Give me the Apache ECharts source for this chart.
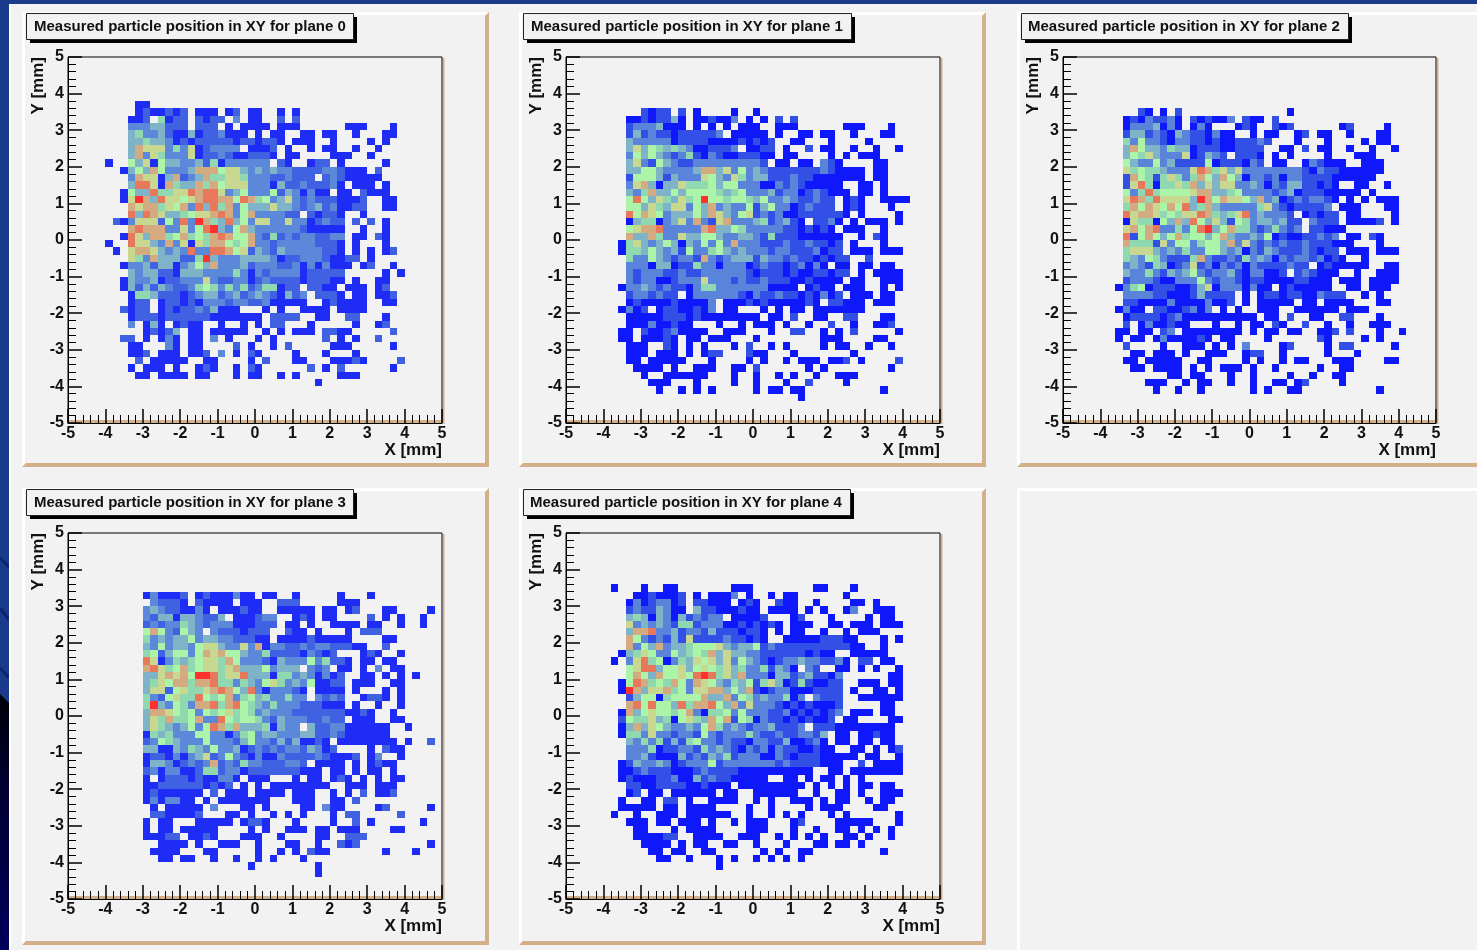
<!DOCTYPE html>
<html><head><meta charset="utf-8">
<style>html,body{margin:0;padding:0;background:#f2f2f2;overflow:hidden}#c{width:1477px;height:950px}#c canvas{filter:blur(.4px)}</style>
<script src="https://cdn.jsdelivr.net/npm/echarts@6/dist/echarts.min.js"></script>
</head><body><div id="c"></div>
<script>
// Each row is one 0.2 mm strip in Y, top to bottom; each character is one 0.2 mm bin in X,
// starting at X = -4.0 mm (blocks of five). "." = empty bin, 1..9,a = colour level.
const binOffset = 5;
const planeTitles = ["Measured particle position in XY for plane 0","Measured particle position in XY for plane 1","Measured particle position in XY for plane 2","Measured particle position in XY for plane 3","Measured particle position in XY for plane 4"];
const firstRows = [6,7,7,8,7];
const plane0 = [
"....1 1....",
"....1 21121 2.111 .12.1 1..1. 1....",
"...11 2.512 2.212 2.3.1 1..2. 2....",
"...33 34422 2.222 .1.11 11.11 1.... ..111 ...1.",
"...45 33421 14122 3111. 1.11. .11.1 1..1. ..11.",
"...44 54431 21222 22122 1221. 111.. 1.... 1.1..",
"...48 77735 37123 333.1 112.1 ..1.1 1..1. .1...",
"...48 37533 37122 32112 221.1 1.... 111.. 1....",
"1..64 71644 33425 13333 33.21 ..122 .1... ..1..",
"..146 48633 34888 67743 43433 22223 32111 .2...",
"...38 77148 23485 57753 33223 222.2 32111 11...",
"...49 97185 44858 67773 33142 23222 31.11 1.1..",
"..164 49557 79899 73463 33624 31311 .11.2 111..",
"..17a 84977 67899 88698 56347 32322 21112 ..11.",
"...87 88576 83949 58364 44744 32342 31122 ..11.",
"...94 98744 56778 98368 33332 2.212 21..1",
".2137 77263 93a85 49463 77337 33123 22.2. 2.1..",
"...89 88833 7369a 43684 33333 32111 11..1 ..1..",
"..197 48856 85658 98668 32523 23322 33.11 .21..",
"1..97 74383 71758 86568 33233 33322 21.1. ..1..",
".1.78 87434 39339 98672 43243 33332 21.1. 1.12.",
"...75 38444 225a4 33344 44312 23332 1122. 1....",
"..133 42441 34648 33342 33322 31313 111.1 2..1.",
"...43 44221 44433 33531 32333 31222 22... ..1.1",
"..143 34122 33373 22331 23222 21222 11.1. .11..",
"..142 42432 23565 35352 35512 2.221 1.111 .12..",
"...15 54222 12344 23423 43214 23.22 21.11 .112.",
"...12 2.122 12133 32332 23111 11..1 21111 ..11.",
"..212 2.121 22324 111.. .1.1. .1111 .1111",
"...12 22122 22221 11111 1.222 2..11 ..22. ..1..",
"...3. 141.1 211.. 1..1. 1.22. ..1.. ...1. .12..",
"..... 12124 .11.1 1111. .1.1. 111.2 211.. ...2.",
"..22. 1.131 .11.3 .1... 1.1.. ....2 .1.1. .2...",
"...11 ...31 .11.. ..2.1 ..1.2 ..... 111.. ...1.",
"...11 2.111 .112. 3.1.2 1.... 1...1 ...1.",
"....2 .1111 1..11 ....1 .2... 11... 11121 ....2",
"...1. 111.1 ..121 ..1.2 1.... ..2.1 .2... ...1.",
"....1 1.111 1.11. ..1.1 1..1. 1.... .111.",
"..... ..... ..... ..... ..... ...1."
];
const plane1 = [
"..... 2122. 2.1.. ..1.. 1....",
"...11 21224 1.112 113.1 .1.2. 2....",
"...23 33411 1.1.1 .1.11 1..11 1.... ..111 ...1.",
"...24 23221 22222 3.111 11.1. .11.1 1..1. ..11.",
"...43 33331 22221 11121 212.. 11... 1.... 1....",
"...47 46545 43112 223.1 122.1 ..2.1 1..1. .1..1",
"...36 46432 35213 21122 211.1 1.... 1.1.1 11...",
"...47 32643 22333 33333 32.11 .11.3 21... .11..",
"...44 66433 33488 47363 43222 22223 21111 .11..",
"...26 66424 33376 43753 44222 32211 11111 .11..",
"...37 84144 75556 46633 31132 32111 11..1 1.1..",
"...43 58446 46666 54563 33423 31232 111.1 1.1..",
"...69 64754 756a6 65665 46334 32232 2.121 ..111 1....",
"...66 47547 73648 34336 24633 12322 2.121 ...1.",
"...96 87634 44648 74367 23231 12222 221.1 ....1",
"...14 55134 73832 78333 45234 21.22 31.1. 111.1",
"...67 88933 33389 44653 33332 21212 1.111 ..1..",
"...84 48533 74466 43344 32522 21111 11..1 .21..",
"..157 43464 14363 63833 32223 22322 12.1. ..1..",
"..155 46434 26335 64343 33233 22231 22.11 1.111",
"...53 36432 33283 23444 24332 32212 122.. 2....",
"...33 31441 22533 13331 23221 23131 .11.1 1.11.",
"...32 33322 32233 33332 12221 21122 122.1 .1111",
"...32 33112 33373 33232 23222 11211 11.11 ..111",
"..133 43232 21355 33333 33111 1.121 1.111 ..1.1",
"...23 32322 .1333 33321 32232 21213 12.11 1.11.",
"...12 11112 11113 .1112 12111 1121. 22111 .111.",
"..131 2.122 11213 .11.. .1.1. 11.11 11111",
"...11 11122 21211 11111 1.11. 2..11 ..22. ..11.",
"...11 13112 11... 1..1. 111.1 ..1.. 2..1. .112.",
"..11. 21123 1111. .111. ..1.. 22..1 .1.2. ....1",
"..11. 11121 .11.1 11... 1.... ....1 11... .11..",
"...11 1..21 .1.1. ..1.2 ..1.1 ....1 .11.. 1..1.",
"...11 1.111 .1.12 2...2 11... 1.... ...1.",
"...11 .1111 1...1 ....1 .1..1 .111. 112.1 ....2",
"....1 111.1 ..111 ..11. 2.... ..1.1 ..... ...1.",
"..... 1..11 1111. ..1.. 1..1. 1..1. .111.",
"..... .111. ..1.. ..1.. 1...1 ..2.. ..1..",
"..... ..1.. 1.1.1 ..... 1.11. 11... ..... ..1..",
"..... ..... ..... ..... ..... .1..."
];
const plane2 = [
"..... 21.1. 2.... ..... ..... 1....",
"...12 13223 1.212 113.2 11.2.",
"...13 33413 1.131 ...12 1..21 2.... ..12. ...1.",
"...24 42321 43221 311.. 1.11. .12.1 1..1. ..11.",
"...53 63321 33221 21122 232.. .1... 1.... 1.11.",
"...48 64435 44122 21122 22..1 1.2.1 1..1. .1..1",
"...46 57433 37124 32.22 21.1. 1.... 1...1 11...",
"...64 33634 22226 12221 32.11 ..132 111.. 111..",
"...75 65543 33798 57473 33333 33213 22111 111..",
"...28 65257 53586 48641 33231 33222 21111 11...",
"...27 95155 75847 47733 43132 44221 21..1 1..1.",
"...63 59566 66788 44563 33323 41222 11111 .1...",
"...79 85977 774a8 68776 48341 23233 21.1. 1.111",
"...58 68768 69458 43333 35732 12222 3.111 ...11",
"...97 88756 57798 54579 34333 2.121 22.11 ....1",
"...17 55164 84964 74265 34434 22.32 22.11 112.1",
"...78 68933 5369a 46855 32353 23.22 111..",
"...92 68646 85664 68433 43612 11223 23.11 .21..",
"...85 55273 66356 64837 32323 22322 2111. ..1..",
"...57 77434 35336 64341 32432 22321 22.11 1.111",
"...54 36532 22583 22325 34313 23323 121.. 1....",
"...34 32541 23723 13231 32222 322.1 21111 1..11",
"...43 35324 34632 33421 33112 .2321 11..1 ..111",
"...23 33211 33363 23321 22111 12211 1.111 .1111",
"..135 61222 11247 13331 311.1 21111 1..11 .111.",
"...33 33221 11242 222.1 .1221 22113 222.. 1.1..",
"...22 11113 11113 112.1 .1111 1.11. 1111. ..11.",
"..131 1.221 12313 .1.1. .111. .1111 11.11 1....",
"...12 22212 31111 11111 1.11. 2..11 ..22. ..1..",
"...2. 13112 11... 1..1. 11.21 ..2.. 1..1. .111.",
"..11. 11.23 .1111 1111. 1.11. 11..1 12.2. ..1.. 1....",
"..1.1 1.131 11121 .11.. ..1.. ....2 1.... 1.1..",
"...2. ...1. .111. 1.1.3 ....1 2.... 1.22. ....1",
"....1 1.111 .1..1 11..1 22..1 ..... 1...1",
"...11 .1111 1..11 ....1 .1..1 .11.. .111. ...11",
"....1 1.111 1.1.1 .111. 1..1. ....1 ..11.",
"..... ....1 1.11. ..1.. 1.... 1..1. .11..",
"..... .111. .1.11 ..1.. 1..11 .12.. ..1..",
"..... ..1.. 1..1. ..... 1.1.. 11... ..... ..1.."
];
const plane3 = [
"..... 13111 2.121 11311 .11.. 1.... .1... 1....",
"..... .3222 1.211 11.11 1..22 2.... .111.",
"..... 34322 1131. 11121 1..11 111.1 1.12. ..11. ...1.",
"..... 32441 44322 4.111 233.. 121.1 1.... 2.1.1 ..1..",
"..... 23233 54323 33111 222.1 1.1.. 1111. 11..1 ..1..",
"..... 68632 643.3 22212 22..2 11.1. ..1.2 22...",
"..... 53434 46344 33222 11.11 11211 111.. ..11.",
"..... 43634 43677 43373 81332 23233 22211 ..2..",
"..... 56246 63687 86643 35222 21321 2...1 21..1",
"..... 97135 45677 58633 32143 33635 221.1 1.11.",
"..... 89756 85677 57844 46344 4.323 .11.1 .3.11",
"..... 44787 86aa9 57794 44155 34313 12..1 1.1.1 .1...",
"..... 45768 85889 55354 36753 43611 22.11 1..11",
"..... 47726 75578 98649 31333 21.11 11.1. ..1.1",
"..... 53267 55965 68356 45335 33.32 32..1 221.1",
"..... 5a436 53889 58965 43533 32221 11.1. .1..1",
"..... 48876 56365 67565 34333 22222 22112 1..1.",
"..... 47585 56833 96566 53243 33223 22.11 1..11",
"..... 47543 46369 85844 45143 3.422 33111 111.. 1....",
"..... 15453 33663 31356 34433 34422 32111 111..",
"..... 23654 33363 33246 33242 41121 .1111 1111. 1..2.",
"..... 44114 35436 33412 32323 32431 2.... 1.211",
"..... 12213 13472 36321 31132 22232 1112. 13..1",
"..... 14431 23238 23253 32223 32.11 11.1. 1211.",
"..... 23133 11255 23312 22222 2111. 11.1. 11.1.",
"..... 1.122 21211 331.1 11... 1.11. 121.1 .1.11",
"..... 11222 22212 12.1. 1.111 11111 ..111 .111.",
"..... 12111 111.2 .111. 1111. 111.. 1.1.2 .112.",
"..... 13133 11.1. 11111 11... 111.. 11.2.",
"..... .1.11 111.3 ...11 .1... .11.3 11... .12.. ...1.",
"..... .2211 112.. .11.1 ..1.1 .1... 1.22. ....2",
"..... 1.11. ..111 11.12 21... 1.... 1..2. 1.... ..1..",
"..... 1.11. 11111 ....1 .1..1 11.11 .111. ...11",
"..... 11122 .1121 ...11 1..1. ...11 ..222",
"..... ..111 1.1.. 111.. 1...1 1..1. .212. ..... ...1.",
"..... .1111 ...11 ..... 1..1. 1.211 ..... ..1.. .1...",
"..... ..11. 11..1 ..1.. 1.1.. .1...",
"..... ..... ..... ....1 ..... ...1.",
"..... ..... ..... ..... ..... ...1."
];
const plane4 = [
".1... 1..11 ..... ..111 ..... ...11 ...1.",
"....1 12111 2.1.1 113.1 ..1.1 1.... ..1..",
"...13 12331 2.221 11.12 1..21 1..1. ...11 .1...",
"...23 22431 1.422 11121 1.111 1.1.1 ..13. .111.",
"...45 41431 42323 3.111 12... 12... 1.... 1.11.",
"...73 43432 55233 31121 2121. 111.. 11.11 1.111",
"...48 89334 23324 22212 21.1. 11..1 ..1.1 11...",
"...86 32324 27222 23221 21..1 11112 2211. ..1.1",
"...83 64834 45666 74344 62322 22222 22211 ..1..",
"..145 76336 45658 47443 32222 22121 1..11 111..",
".1.37 95613 54767 47364 32123 34332 231.2 2.11.",
"...67 99466 74676 57453 35243 1.32. .11.1 .1..1",
"...68 64866 769a9 57483 33144 23422 13... ...11",
"..169 85658 63876 43546 25741 25211 22..1 11.11",
"..1a8 47785 63778 84648 21233 11122 22.1. .11.1",
"...24 66156 66684 48365 34335 13.32 22..1 11111",
"...89 69664 95889 64837 33321 21211 12... ..11.",
"..184 67665 68315 56363 33223 12121 23.11 1.11.",
"..265 57451 67548 68265 13221 21211 2.11. ...11",
"..148 47643 34368 53432 33422 23.22 21111 1111.",
"..155 37332 33263 23335 32232 23324 .11.1 1211.",
"...43 53524 25633 23221 33224 11231 .11.1 1.11.",
"...33 35122 33253 43213 23132 21121 1..11 .1.12",
"...33 42111 42324 35233 31132 12221 1111. 11..1",
"..124 33431 23336 23333 33323 22221 11..2 .1111",
"..112 32221 11232 22211 11111 111.. 11.11 11111",
"..121 11223 11423 22111 11..1 1.1.1 1.1.1",
"...22 11222 21121 11.11 11111 11.1. 1.1.1 1.11.",
"...12 .11.1 11111 .11.. 11111 1..1. .11.1 ..111",
"..1.. 11.22 .1..1 111.. 1.1.. 111.1 .11.. 1.11.",
"..111 11.11 .1111 ....1 ..1.. ..1.1 11... .11..",
".1..1 ..111 .1111 11..1 ..1.1 .1... 1.1.. ....1",
"...11 1.11. 111.1 ..1.1 11... 12... .1111 1...1",
"....1 1...1 .1111 ....1 11... 1..1. .11.1 .1.1.",
"....1 11122 ..111 1..11 1..1. 1.1.1 ..11. 1..1.",
"..... 1111. 1.11. .11.. 1...1 ...11 .11.1",
"..... .11.1 1..11 ..... .1.1. .11.. ..... ..1..",
"..... ..11. .1... 1.1.. 1.1.1 .1...",
"..... ..... ..... 1...."
];
const planes = [plane0,plane1,plane2,plane3,plane4];

const binWidth = 0.2;
const levelsSharp = ["#0f18fb","#3350e6","#5a84da","#7fb3c8","#8fd8b0","#acf5a8","#c8d890","#d4ab80","#e8785c","#ff3030"];
const levelsSoft  = ["#1f2cf6","#4062e2","#5c88da","#7fb3c8","#8fd8b0","#acf5a8","#c8d890","#d4ab80","#e8785c","#ff3030"];
const palettes = [levelsSoft,levelsSharp,levelsSharp,levelsSoft,levelsSharp];

const plotRects = [[68,57,374,366],[566,57,374,366],[1063,57,373,366],[68,533,374,366],[566,533,374,366]];
const panelRects = [[22,12,467,455],[519,12,467,455],[1017,12,470,455],[22,488,467,457],[519,488,467,457],[1017,488,470,470]];
const titleBoxes = [[26,13,327,26,34],[523,13,328,26,531],[1021,13,327,26,1028],[26,489,327,26,34],[523,489,327,26,530]];

const TAN="#d2b08a";
function cells(rows, first){
  const out=[];
  rows.forEach((r,k)=>{
    const s=r.replace(/ /g,'');
    for(let i=0;i<s.length;i++){
      if(s[i]==='.')continue;
      const lvl=s[i]==='a'?10:+s[i];
      const col=i+binOffset, row=first+k;
      out.push([-5+binWidth*col, 5-binWidth*(row+1), lvl]);
    }
  });
  return out;
}
const g=[];
// page decoration
g.push({type:'rect',shape:{x:0,y:0,width:1477,height:4},style:{fill:'#1a3a8c'},silent:true});
g.push({type:'rect',shape:{x:0,y:0,width:9,height:950},style:{fill:'#1a3a8c'},silent:true});
g.push({type:'polygon',shape:{points:[[0,694],[9,703],[9,950],[0,950]]},style:{fill:new echarts.graphic.LinearGradient(0,0,0,1,[{offset:0,color:'#000008'},{offset:0.35,color:'#000030'},{offset:1,color:'#00005c'}])},silent:true});
[[558,567],[608,620],[668,678]].forEach(p=>g.push({type:'line',shape:{x1:0,y1:p[0],x2:9,y2:p[1]},style:{stroke:'#0b2470',lineWidth:3},silent:true}));
g.push({type:'rect',shape:{x:9,y:4,width:2,height:946},style:{fill:'#ffffff'},silent:true});
// panels
panelRects.forEach((p,i)=>{
  const [x,y,w,h]=p;
  g.push({type:'rect',shape:{x:x,y:y,width:w,height:3},style:{fill:'#fff'},silent:true});
  g.push({type:'rect',shape:{x:x,y:y,width:3,height:h},style:{fill:'#fff'},silent:true});
  if(i<5){
    g.push({type:'polygon',shape:{points:[[x,y+h],[x+4,y+h-4],[x+w,y+h-4],[x+w,y+h]]},style:{fill:TAN},silent:true});
    if(i!==2) g.push({type:'polygon',shape:{points:[[x+w,y],[x+w,y+h],[x+w-4,y+h-4],[x+w-4,y+4]]},style:{fill:TAN},silent:true});
  }
});
plotRects.forEach(p=>{
  g.push({type:'rect',shape:{x:p[0],y:p[1]+p[3]-3,width:p[2],height:3},style:{fill:TAN},silent:true});
  g.push({type:'rect',shape:{x:p[0]+p[2]+1,y:p[1]+1,width:1.5,height:p[3]},style:{fill:TAN},silent:true});
});
titleBoxes.forEach((b,i)=>{
  g.push({type:'rect',shape:{x:b[0]+4,y:b[1]+4,width:b[2],height:b[3]},style:{fill:'#000'},silent:true});
  g.push({type:'rect',shape:{x:b[0]+.5,y:b[1]+.5,width:b[2],height:b[3]},style:{fill:'#f2f2f2',stroke:'#222',lineWidth:1},silent:true});
  g.push({type:'text',x:b[4],y:b[1]+14,style:{text:planeTitles[i],font:'bold 15px "Liberation Sans"',fill:'#111',verticalAlign:'middle'},silent:true});
});

const axisCommon={type:'value',min:-5,max:5,interval:1,z:5,splitLine:{show:false},
  axisLine:{show:true,onZero:false,lineStyle:{color:'#000',width:1}},
  axisTick:{show:true,inside:true,length:14,lineStyle:{color:'#000',width:1.5}},
  minorTick:{show:true,splitNumber:5,length:8,lineStyle:{color:'#000',width:1}},
  minorSplitLine:{show:false}};
const labelStyle={color:'#111',fontFamily:'"Liberation Sans"',fontWeight:'bold',fontSize:16};
const nameStyle={color:'#111',fontFamily:'"Liberation Sans"',fontWeight:'bold',fontSize:17};
const grid=[],xAxis=[],yAxis=[],series=[];
plotRects.forEach((p,i)=>{
  grid.push({left:p[0],top:p[1],width:p[2],height:p[3],show:true,backgroundColor:'rgba(0,0,0,0)',borderColor:'#000',borderWidth:1});
  xAxis.push(Object.assign({},axisCommon,{gridIndex:i,name:'X [mm]',nameLocation:'end',nameGap:0,
    nameTextStyle:Object.assign({align:'right',verticalAlign:'top',padding:[19,0,0,0]},nameStyle),
    axisLabel:Object.assign({margin:3},labelStyle)}));
  yAxis.push(Object.assign({},axisCommon,{gridIndex:i,name:'Y [mm]',nameLocation:'end',nameGap:0,nameRotate:90,
    nameTextStyle:Object.assign({align:'right',verticalAlign:'bottom',padding:[0,0,21,0]},nameStyle),
    axisLabel:Object.assign({margin:4,lineHeight:20,padding:[8,0,0,0]},labelStyle)}));
  const pal=palettes[i];
  series.push({type:'custom',xAxisIndex:i,yAxisIndex:i,clip:true,silent:true,animation:false,z:1,
    encode:{x:0,y:1},data:cells(planes[i],firstRows[i]),
    renderItem:(params,api)=>{
      const a=api.coord([api.value(0),api.value(1)+binWidth]);
      const b=api.coord([api.value(0)+binWidth,api.value(1)]);
      const x=Math.round(a[0]),y=Math.round(a[1]);
      return {type:'rect',shape:{x:x,y:y,width:Math.round(b[0])-x,height:Math.round(b[1])-y},
        style:{fill:pal[api.value(2)-1]}};
    }});
});
const chart=echarts.init(document.getElementById('c'),null,{renderer:'canvas',width:1477,height:950});
chart.setOption({animation:false,backgroundColor:'#f2f2f2',graphic:{elements:g},grid,xAxis,yAxis,series});
</script></body></html>
